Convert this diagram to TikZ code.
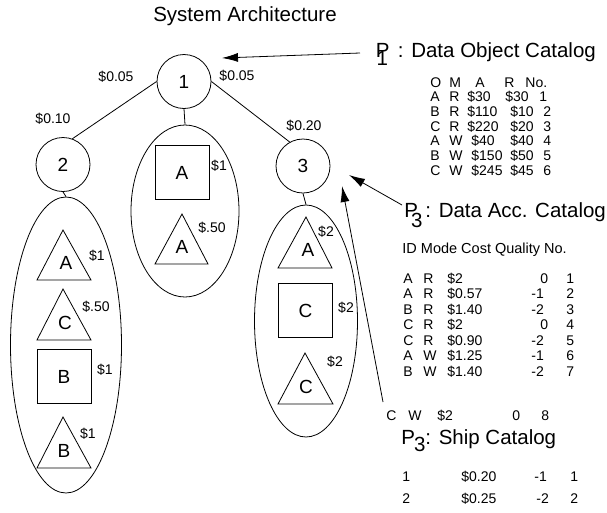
\documentclass[tikz,border=0pt]{standalone}
\usepackage{fontspec}
\setmainfont{Liberation Sans}
\usetikzlibrary{shapes.geometric,arrows.meta}

\begin{document}
\begin{tikzpicture}[x=1pt,y=-1pt,line width=0.8pt,
  hd/.style={font=\fontsize{20.5}{24}\selectfont,inner sep=0,anchor=base west},
  big/.style={font=\fontsize{19}{22}\selectfont},
  cost/.style={font=\fontsize{14}{16}\selectfont,inner sep=0},
  cell/.style={font=\fontsize{14}{16}\selectfont,inner sep=0,anchor=base west},
  stage/.style={circle,draw,minimum size=54pt,inner sep=0,big},
  group/.style={ellipse,draw,inner sep=0},
  box/.style={rectangle,draw,minimum size=54pt,inner sep=0,big},
  letter/.style={big,inner sep=0},
  ptr/.style={-{Latex[length=16pt,width=9pt]}}]
\useasboundingbox (0,0) rectangle (607,512);

% title
\node[font=\fontsize{20.5}{24}\selectfont,inner sep=0,anchor=base] (title) at (245,21) {System Architecture};

% tree of stages
\node[stage] (c1) at (184,81.5) {1};
\node[stage] (c2) at (63,164.5) {2};
\node[stage] (c3) at (303,166) {3};

\node[group,minimum width=111pt,minimum height=296pt] (e1) at (66,345) {};
\node[group,minimum width=108pt,minimum height=172pt] (e2) at (185,211) {};
\node[group,minimum width=103pt,minimum height=232pt] (e3) at (306,321) {};

\draw (c1.180) -- (c2.70);
\draw (c1.0) -- (c3.119);
\draw (c1.south) -- (e2.north);
\draw (c2.south) -- (e1.north);
\draw (c3.south) -- (e3.north);

\node[cost] (l12) at (116,77) {\$0.05};
\node[cost] (l13) at (237,76) {\$0.05};
\node[cost] (l2) at (53,119) {\$0.10};
\node[cost] (l3) at (304,126) {\$0.20};

% left group
\draw (63,230) -- (91,280) -- (37,280) -- cycle;
\node[letter] (la) at (66,263) {A};
\node[cost] (la$) at (97,256) {\$1};
\draw (63,289) -- (91,340) -- (37,340) -- cycle;
\node[letter] (lc) at (65,323) {C};
\node[cost] (lc$) at (96,307) {\$.50};
\node[box] (lb) at (64,376.5) {B};
\node[cost] (lb$) at (105,370) {\$1};
\draw (63,417) -- (91,468) -- (37,468) -- cycle;
\node[letter] (lb2) at (64,451) {B};
\node[cost] (lb2$) at (88,434) {\$1};

% middle group
\node[box] (ma) at (182,172.5) {A};
\node[cost] (ma$) at (219,166) {\$1};
\draw (182,214) -- (208,264) -- (155,264) -- cycle;
\node[letter] (ma2) at (182,247) {A};
\node[cost] (ma2$) at (212,228) {\$.50};

% right group
\draw (306,217) -- (332,268) -- (278,268) -- cycle;
\node[letter] (ra) at (308,250) {A};
\node[cost] (ra$) at (326,232) {\$2};
\node[box] (rc) at (305.5,310.5) {C};
\node[cost] (rc$) at (346,308) {\$2};
\draw (305,353) -- (333,404) -- (278,404) -- cycle;
\node[letter] (rc2) at (306,387) {C};
\node[cost] (rc2$) at (335,362) {\$2};

% catalog pointers
\coordinate (s1) at (360,53);  \coordinate (t1) at (222,58);
\coordinate (s2) at (402,205); \coordinate (t2) at (349,175);
\coordinate (s3) at (383,402); \coordinate (t3) at (342,186);
\draw[ptr] (s1) -- (t1);
\draw[ptr] (s2) -- (t2);
\draw[ptr] (s3) -- (t3);

% data object catalog
\node[hd] (p1) at (375.5,57) {P\kern-13pt\raisebox{-8pt}{1}\kern10pt: Data Object Catalog};
\foreach \t/\x in {O/430,M/449,A/475,R/504,No./525}
  \node[cell] at (\x,87) {\t};
\foreach \o/\m/\a/\r/\n/\xa/\xb/\xn [count=\i] in
  {A/R/30/30/1/467/505/539, B/R/110/10/2/467/510/543, C/R/220/20/3/467/510/543,
   A/W/40/40/4/471/510/543, B/W/150/50/5/471/510/543, C/W/245/45/6/471/510/543}{
  \pgfmathsetmacro\yy{87+14.7*\i}
  \node[cell] at (430,\yy) {\o};
  \node[cell] at (449,\yy) {\m};
  \node[cell] at (\xa,\yy) {\$\a};
  \node[cell] at (\xb,\yy) {\$\r};
  \node[cell] at (\xn,\yy) {\n};
}

% data access catalog
\node[hd] (p3) at (404,217) {P\kern-7pt\raisebox{-10pt}{3}\kern3pt: Data Acc. Catalog};
\node[cell,font=\fontsize{14.5}{16}\selectfont] (acchead) at (402,253) {ID Mode Cost Quality No.};
\foreach \o/\m/\c/\q/\xq/\n [count=\i] in
  {A/R/2/0/540/1, A/R/0.57/-1/531/2, B/R/1.40/-2/531/3, C/R/2/0/540/4,
   C/R/0.90/-2/531/5, A/W/1.25/-1/531/6, B/W/1.40/-2/531/7}{
  \pgfmathsetmacro\yy{267.5+15.5*\i}
  \node[cell] at (403,\yy) {\o};
  \node[cell] at (423,\yy) {\m};
  \node[cell] at (447,\yy) {\$\c};
  \node[cell] at (\xq,\yy) {\q};
  \node[cell] at (566,\yy) {\n};
}
\node[cell] (cw) at (386,420) {C};
\node[cell] at (408,420) {W};
\node[cell] at (437,420) {\$2};
\node[cell] at (512,420) {0};
\node[cell] at (541,420) {8};

% ship catalog
\node[hd] (ps) at (401,444) {P\kern-1pt\raisebox{-7pt}{3}: Ship Catalog};
\node[cell] at (402,481) {1};
\node[cell] at (461,481) {\$0.20};
\node[cell] at (534,481) {-1};
\node[cell] at (570,481) {1};
\node[cell] at (402,503) {2};
\node[cell] at (461,503) {\$0.25};
\node[cell] at (536,503) {-2};
\node[cell] at (570,503) {2};
\end{tikzpicture}
\end{document}
